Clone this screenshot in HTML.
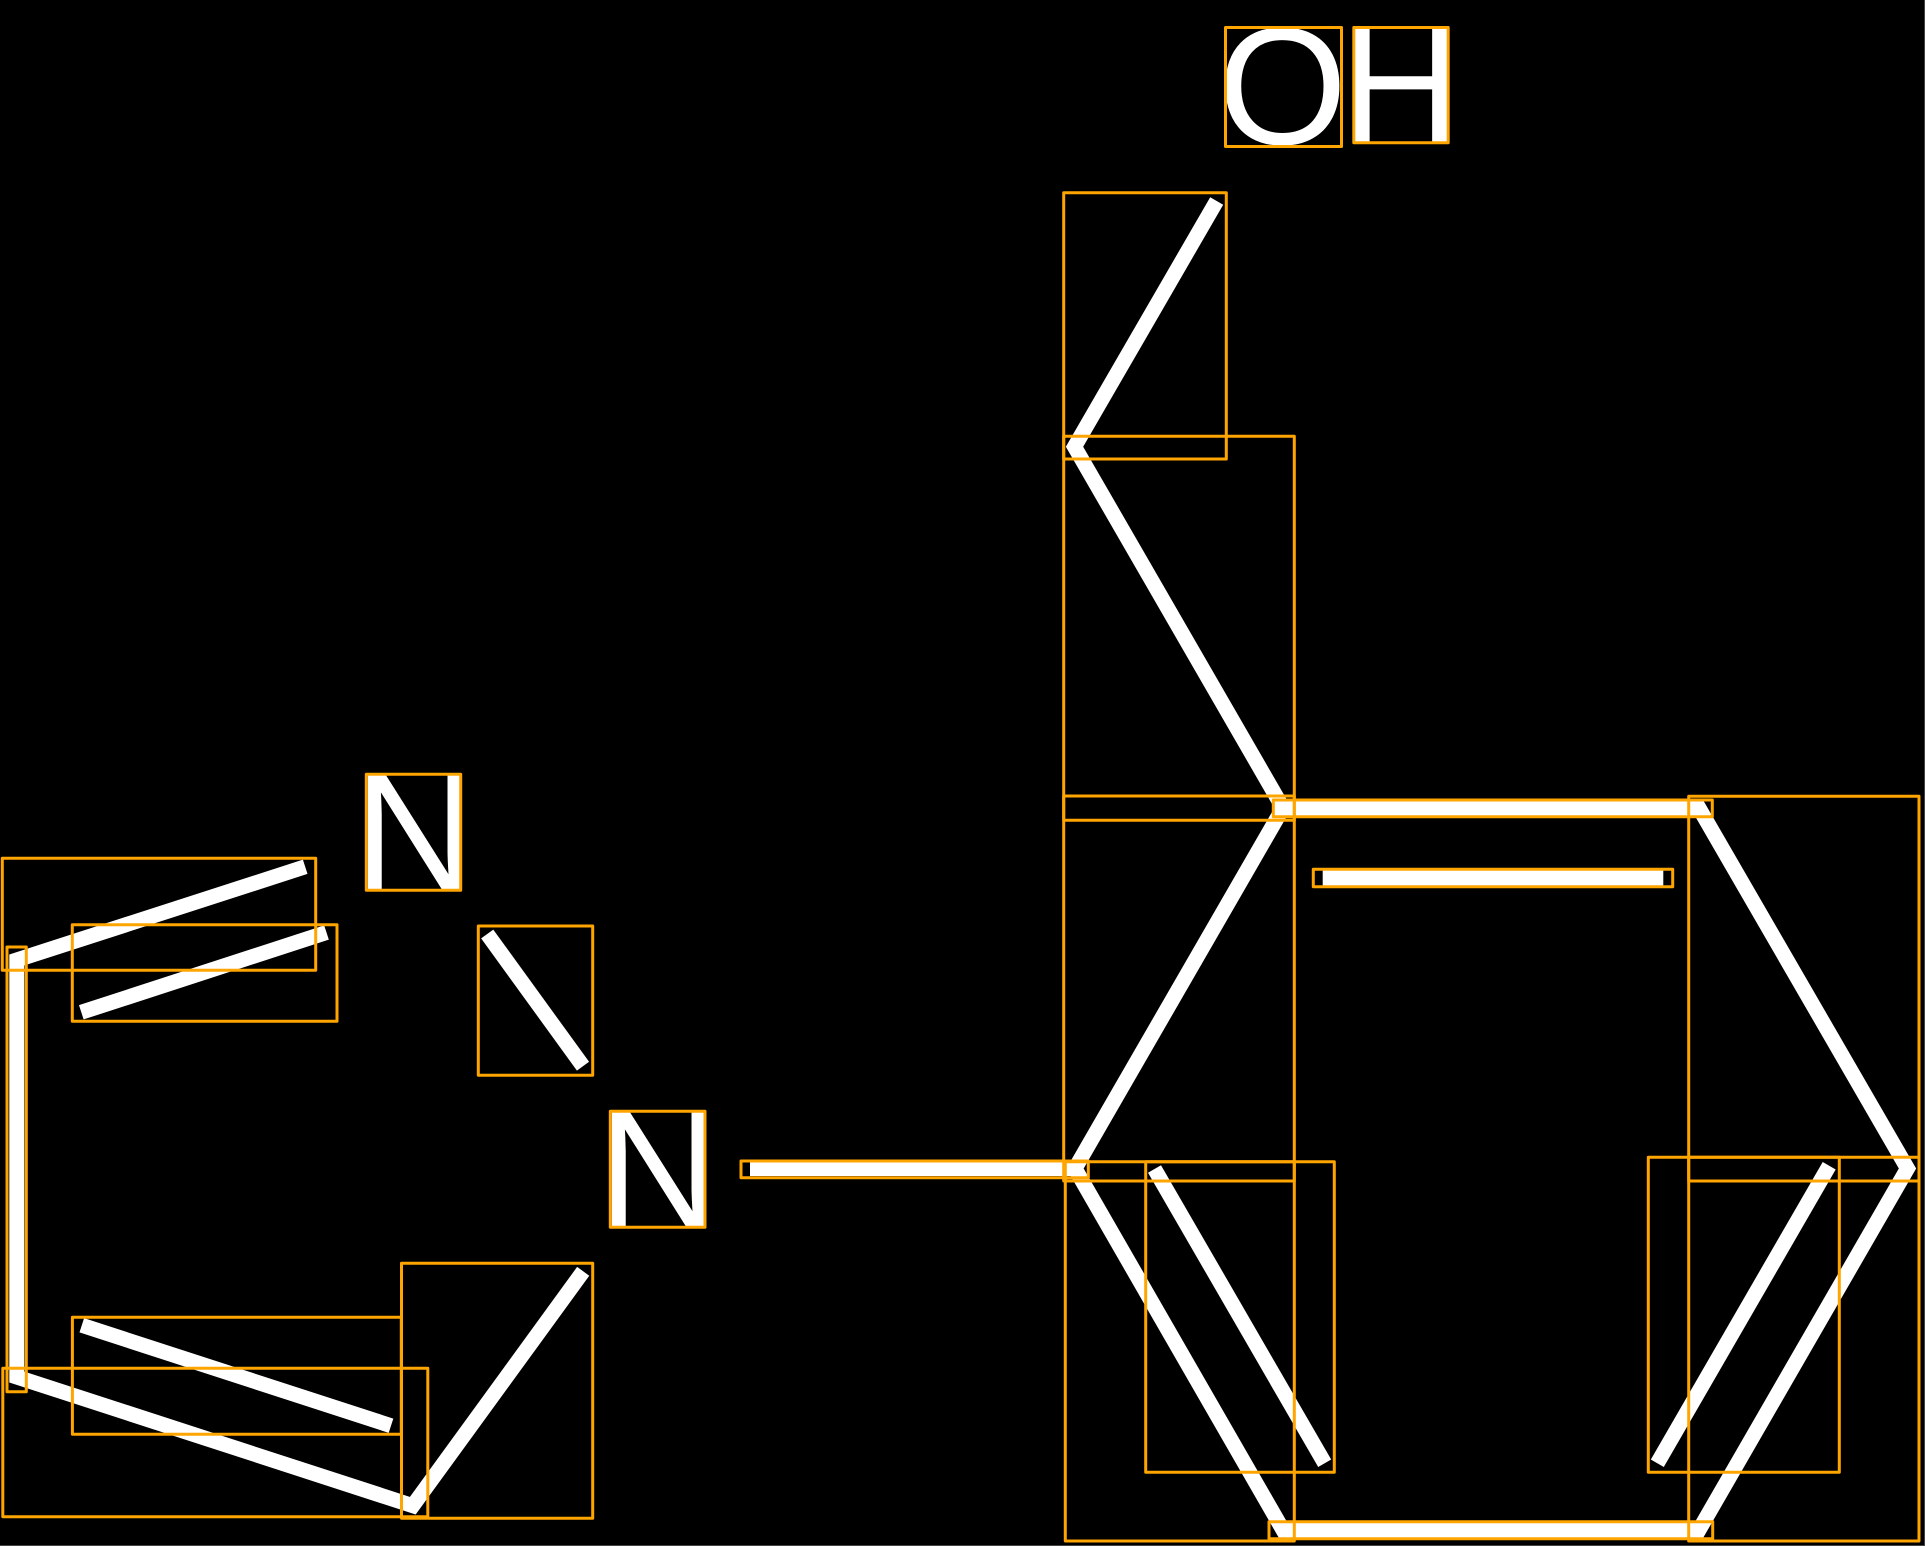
<!DOCTYPE html>
<html><head><meta charset="utf-8"><style>
html,body{margin:0;padding:0;background:#000;width:1925px;height:1546px;overflow:hidden}
svg{display:block}
text{font-family:"Liberation Sans",sans-serif;font-size:168px;fill:#fff}
</style></head><body>
<svg width="1925" height="1546" viewBox="0 0 1925 1546" xmlns="http://www.w3.org/2000/svg">
<rect width="1925" height="1546" fill="#000"/>
<g fill="none" stroke="#fff" stroke-width="15" stroke-linecap="butt" stroke-linejoin="miter" stroke-miterlimit="10">
<path d="M305.2 866.8L16.8 960L16.8 1377L412.8 1505.7L583.2 1271.3"/>
<path d="M326.5 932.5L81.3 1012.3"/>
<path d="M81.8 1325.3L391 1425.7"/>
<path d="M487.2 934L583 1066.2"/>
<path d="M750 1168.5L1075 1168.5"/>
<path d="M1216.7 201L1074.5 446.7L1283 808L1075 1168.5L1283 1530L1699 1530L1907.5 1168.5L1699 808L1283 808"/>
<path d="M1322.7 878L1663.3 878"/>
<path d="M1154.5 1169L1324.7 1463.3"/>
<path d="M1829.2 1165.7L1657.3 1463.3"/>
</g>
<text x="1217.5" y="144" style="font-size:167px">O</text>
<text x="1340.2" y="143">H</text>
<text x="354" y="890.8">N</text>
<text x="598" y="1227.8">N</text>
<g fill="none" stroke="#FFA500" stroke-width="3" stroke-linejoin="round">
<rect x="1225.5" y="27.5" width="116" height="119"/>
<rect x="1353.8" y="27.5" width="94.4" height="115.3"/>
<rect x="366.3" y="774.3" width="94.4" height="116"/>
<rect x="610.3" y="1111.3" width="94.7" height="116"/>
<rect x="1063.7" y="192.7" width="162.6" height="266.3"/>
<rect x="1063.7" y="436.3" width="230.6" height="384"/>
<rect x="1063.7" y="796" width="230.6" height="385"/>
<rect x="1065.3" y="1161.7" width="229" height="379.3"/>
<rect x="1688.7" y="796.3" width="230.3" height="384.7"/>
<rect x="1688.7" y="1157.3" width="230.3" height="383.7"/>
<rect x="1273.3" y="800" width="439" height="16.7"/>
<rect x="1313.3" y="869.3" width="359.4" height="17.4"/>
<rect x="1269" y="1521.7" width="443.7" height="17"/>
<rect x="741" y="1161" width="347.3" height="16.7"/>
<rect x="1145.7" y="1161.7" width="188.6" height="310.6"/>
<rect x="1648.3" y="1157.3" width="191" height="315"/>
<rect x="2.3" y="858.3" width="313.4" height="112"/>
<rect x="72.3" y="924.7" width="264.7" height="96.6"/>
<rect x="7" y="947" width="19.3" height="444.7"/>
<rect x="72.4" y="1317.3" width="328.9" height="117"/>
<rect x="2.8" y="1368.3" width="425" height="148.4"/>
<rect x="401.5" y="1263.3" width="191.2" height="255"/>
<rect x="478.3" y="926" width="114.4" height="149.3"/>
</g>
<rect x="0" y="1545" width="1925" height="1" fill="#444"/>
<rect x="1924" y="0" width="1" height="1546" fill="#444"/>
</svg>
</body></html>
